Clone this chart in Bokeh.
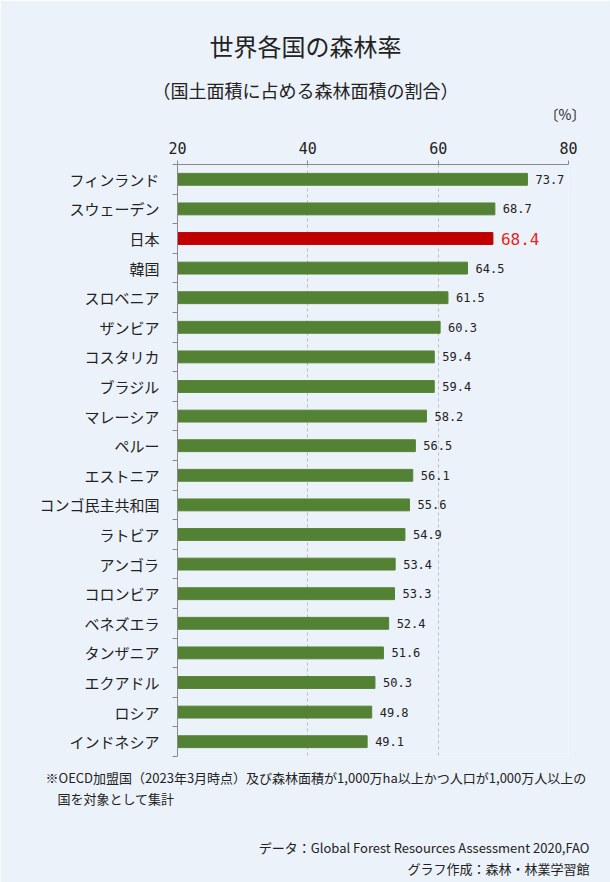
from bokeh.plotting import figure
from bokeh.models import FixedTicker, Range1d, ColumnDataSource, Title
from bokeh.core.properties import value
from bokeh.embed import file_html
from bokeh.resources import INLINE

countries = ["フィンランド", "スウェーデン", "日本", "韓国", "スロベニア", "ザンビア",
             "コスタリカ", "ブラジル", "マレーシア", "ペルー", "エストニア", "コンゴ民主共和国",
             "ラトビア", "アンゴラ", "コロンビア", "ベネズエラ", "タンザニア", "エクアドル",
             "ロシア", "インドネシア"]
rates = [73.7, 68.7, 68.4, 64.5, 61.5, 60.3, 59.4, 59.4, 58.2, 56.5, 56.1, 55.6,
         54.9, 53.4, 53.3, 52.4, 51.6, 50.3, 49.8, 49.1]
x_ticks = [20, 40, 60, 80]
highlight = "日本"

title = "世界各国の森林率"
subtitle = "（国土面積に占める森林面積の割合）"
unit = "〔%〕"
note1 = "※OECD加盟国（2023年3月時点）及び森林面積が1,000万ha以上かつ人口が1,000万人以上の"
note2 = "国を対象として集計"
source_txt = "データ：Global Forest Resources Assessment 2020,FAO"
credit = "グラフ作成：森林・林業学習館"

JP = "Noto Sans CJK JP"
NUM = "DejaVu Sans Mono"
BG = "#ecf2f9"
GREEN = "#548235"
RED_BAR = "#c00000"
RED_TXT = "#e8251e"
INK = "#222222"

n = len(countries)
ypos = [i + 0.5 for i in range(n)]
bar_colors = [RED_BAR if c == highlight else GREEN for c in countries]
lab_colors = [RED_TXT if c == highlight else INK for c in countries]
lab_sizes = ["16px" if c == highlight else "12px" for c in countries]
src = ColumnDataSource(dict(y=ypos, v=rates, lbl=[f"{r:.1f}" for r in rates],
                            bc=bar_colors, lc=lab_colors, ls=lab_sizes))

p = figure(width=610, height=882, x_range=Range1d(x_ticks[0], x_ticks[-1]),
           y_range=Range1d(n, 0),
           x_axis_location="above", output_backend="svg", toolbar_location=None,
           title=None, min_border_left=177, min_border_right=42,
           min_border_top=164, min_border_bottom=126)
p.background_fill_color = BG
p.border_fill_color = BG
p.outline_line_color = None

p.hbar(y="y", left=0, right="v", height=0.4, color="bc", source=src)
p.text(x="v", y="y", text="lbl", text_color="lc", text_font_size="ls",
       text_font=value(NUM), text_baseline="middle", x_offset=8, source=src)

# x axis on top
xa = p.xaxis[0]
xa.ticker = FixedTicker(ticks=x_ticks, minor_ticks=[])
xa.axis_line_color = "#8a8a8a"
xa.major_tick_line_color = "#8a8a8a"
xa.major_tick_out = 4
xa.major_tick_in = 0
xa.minor_tick_line_color = None
xa.major_label_text_font = NUM
xa.major_label_text_font_size = "15px"
xa.major_label_text_color = INK
xa.major_label_standoff = 7

# y axis: labels at row centres, tick marks between rows
ya = p.yaxis[0]
ya.ticker = FixedTicker(ticks=ypos, minor_ticks=list(range(n + 1)))
ya.major_label_overrides = {y: c for y, c in zip(ypos, countries)}
ya.axis_line_color = "#8a8a8a"
ya.major_tick_line_color = None
ya.major_tick_out = 0
ya.major_tick_in = 0
ya.minor_tick_line_color = "#8a8a8a"
ya.minor_tick_out = 5
ya.minor_tick_in = 0
ya.major_label_text_font = JP
ya.major_label_text_font_size = "15px"
ya.major_label_text_color = INK
ya.major_label_standoff = 13

p.ygrid.grid_line_color = None
p.xgrid.ticker = FixedTicker(ticks=x_ticks)
p.xgrid.grid_line_color = "#bdbdbd"
p.xgrid.grid_line_dash = "3 3"


def ttl(side, text, size, align="left", offset=0, standoff=0, valign="top"):
    p.add_layout(Title(text=text, align=align, offset=offset, standoff=standoff,
                       vertical_align=valign, text_font=JP, text_font_size=size,
                       text_font_style="normal", text_color=INK), side)


# above: first added sits nearest the frame
ttl("above", " ", "1px", standoff=8.6)                                  # spacer
ttl("above", unit, "14px", align="right", offset=-17, standoff=2, valign="top")
ttl("above", subtitle, "18px", offset=-25, standoff=0, valign="bottom")
ttl("above", title, "24px", offset=32, standoff=23, valign="bottom")

# below: first added sits nearest the frame
ttl("below", " ", "1px", standoff=8)                                    # spacer
ttl("below", note1, "13px", offset=-132, standoff=0, valign="top")
ttl("below", note2, "13px", offset=-120, standoff=0, valign="top")
ttl("below", " ", "1px", standoff=25)                                   # spacer
ttl("below", source_txt, "13px", align="right", offset=-21, standoff=0, valign="top")
ttl("below", credit, "13px", align="right", offset=-21, standoff=0, valign="top")

open("out.html", "w").write(file_html(p, INLINE))
